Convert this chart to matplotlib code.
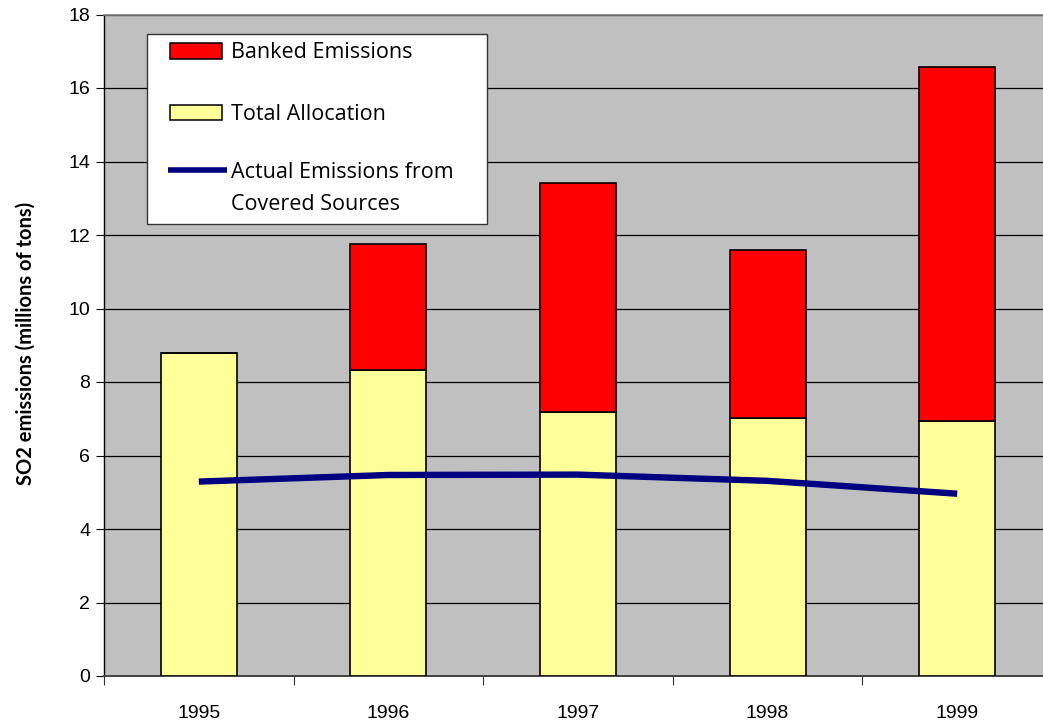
import matplotlib
matplotlib.use("Agg")
import matplotlib.pyplot as plt
from matplotlib.patches import Rectangle
from matplotlib.lines import Line2D
import numpy as np

# SO2 allowance data, millions of tons
years = ["1995", "1996", "1997", "1998", "1999"]
total_allocation = [8.78, 8.33, 7.18, 7.01, 6.95]
banked_top = [8.78, 11.76, 13.42, 11.59, 16.58]
actual_emissions = [5.29, 5.47, 5.48, 5.31, 4.96]
banked_emissions = [b - a for b, a in zip(banked_top, total_allocation)]

W, H = 1043, 726
fig = plt.figure(figsize=(W / 100, H / 100), dpi=100)
fig.patch.set_facecolor("white")

left_px, right_px, top_px, bottom_px = 104, 1052, 14.5, 676
ax = fig.add_axes([left_px / W, (H - bottom_px) / H,
                   (right_px - left_px) / W, (bottom_px - top_px) / H])
ax.set_facecolor("#C0C0C0")

x = np.arange(len(years))
bw = 0.4
ax.bar(x, total_allocation, bw, color="#FFFF99", edgecolor="black",
       linewidth=1.2, zorder=3)
ax.bar(x, banked_emissions, bw, bottom=total_allocation, color="#FF0000",
       edgecolor="black", linewidth=1.2, zorder=3)
ax.plot(x, actual_emissions, color="#000080", linewidth=4.6, zorder=4,
        solid_capstyle="butt")

ax.set_xlim(-0.5, len(years) - 0.5)
ax.set_ylim(0, 18)
ax.set_yticks(np.arange(0, 19, 2))
ax.yaxis.grid(True, color="black", linewidth=0.9, zorder=1)
ax.set_axisbelow(True)

ax.set_xticks(x)
ax.set_xticklabels(years, family="Liberation Sans", fontsize=14)
ax.set_xticks(np.arange(-0.5, len(years), 1), minor=True)
ax.tick_params(axis="x", which="major", length=0, pad=21)
ax.tick_params(axis="x", which="minor", length=6.5, width=0.8,
               direction="out", color="#333333")
ax.tick_params(axis="y", length=5.5, width=0.8, direction="out",
               labelsize=14, pad=4.5)
for lab in ax.get_yticklabels():
    lab.set_family("Liberation Sans")

ax.spines["left"].set_color("black")
ax.spines["left"].set_linewidth(1.0)
ax.spines["bottom"].set_color("#444444")
ax.spines["bottom"].set_linewidth(1.4)
ax.spines["top"].set_color("#808080")
ax.spines["top"].set_linewidth(1.2)
ax.spines["right"].set_visible(False)

fig.text(26 / W, 1 - 343 / H, "SO2 emissions (millions of tons)",
         rotation=90, ha="center", va="center", family="Lato",
         fontweight="bold", fontsize=14.5)

# legend box drawn in figure pixels
def fx(px):
    return px / W

def fy(py):
    return 1 - py / H

fig.patches.append(Rectangle((fx(147), fy(224)), fx(487) - fx(147),
                             fy(33.5) - fy(224), transform=fig.transFigure,
                             facecolor="white", edgecolor="#333333",
                             linewidth=1.0, zorder=10))
fig.patches.append(Rectangle((fx(170), fy(59)), fx(222) - fx(170),
                             fy(43.5) - fy(59), transform=fig.transFigure,
                             facecolor="#FF0000", edgecolor="black",
                             linewidth=1.1, zorder=11))
fig.patches.append(Rectangle((fx(170), fy(120)), fx(222) - fx(170),
                             fy(105) - fy(120), transform=fig.transFigure,
                             facecolor="#FFFF99", edgecolor="black",
                             linewidth=1.1, zorder=11))
fig.lines.append(Line2D([fx(168), fx(227)], [fy(170), fy(170)],
                        transform=fig.transFigure, color="#000080",
                        linewidth=4.0, zorder=11, solid_capstyle="butt"))
legend_font = dict(family="Open Sans", fontsize=15.5, va="center", ha="left",
                   zorder=12)
fig.text(fx(231), fy(53), "Banked Emissions", **legend_font)
fig.text(fx(231), fy(114), "Total Allocation", **legend_font)
fig.text(fx(231), fy(173), "Actual Emissions from", **legend_font)
fig.text(fx(231), fy(204), "Covered Sources", **legend_font)

fig.savefig("out.png", dpi=100)
